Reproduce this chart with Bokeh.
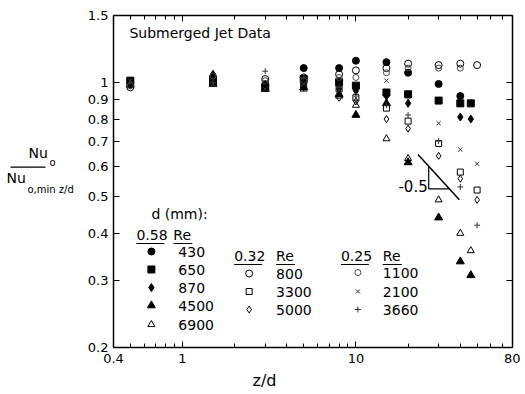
from bokeh.plotting import figure
from bokeh.layouts import row
from bokeh.models import (LogAxis, FixedTicker, CustomJSTickFormatter, Label, Title, Range1d)
from bokeh.embed import file_html
from bokeh.resources import INLINE

# ---------------- data (z/d, Nu_o / Nu_o,min z/d) ----------------
# d = 0.58 mm
s430_x = [0.5, 1.5, 3, 5, 8, 10, 15, 20, 30, 40]
s430_y = [1.00, 1.03, 0.98, 1.09, 1.09, 1.14, 1.13, 1.06, 0.99, 0.92]
s650_x = [0.5, 1.5, 3, 5, 8, 10, 15, 20, 30, 40, 46]
s650_y = [1.01, 1.00, 0.97, 1.02, 1.00, 0.98, 0.94, 0.93, 0.895, 0.88, 0.88]
s870_x = [0.5, 1.5, 3, 5, 8, 10, 15, 20, 40, 46]
s870_y = [0.99, 1.05, 0.97, 0.99, 0.96, 0.95, 0.92, 0.88, 0.81, 0.80]
s4500_x = [0.5, 1.5, 3, 5, 8, 10, 15, 20, 30, 40, 46]
s4500_y = [0.99, 0.99, 0.96, 0.97, 0.93, 0.82, 0.88, 0.615, 0.44, 0.337, 0.31]
s6900_x = [0.5, 1.5, 3, 5, 8, 10, 15, 20, 30, 40, 46]
s6900_y = [0.98, 1.00, 0.97, 0.96, 0.92, 0.87, 0.71, 0.63, 0.49, 0.40, 0.36]
# d = 0.32 mm
s800_x = [0.5, 1.5, 3, 5, 8, 10, 15, 20, 30, 40, 50]
s800_y = [0.97, 1.03, 1.02, 1.03, 1.05, 1.075, 1.09, 1.12, 1.11, 1.12, 1.11]
s3300_x = [0.5, 1.5, 3, 5, 8, 10, 15, 20, 30, 40, 50]
s3300_y = [1.00, 1.00, 0.99, 0.98, 0.96, 0.91, 0.855, 0.79, 0.69, 0.58, 0.52]
s5000_x = [0.5, 1.5, 3, 5, 8, 10, 15, 20, 30, 40, 50]
s5000_y = [0.98, 1.02, 0.99, 0.97, 0.91, 0.89, 0.80, 0.755, 0.64, 0.557, 0.49]
# d = 0.25 mm
s1100_x = [0.5, 1.5, 3, 5, 8, 10, 15, 20, 30, 40]
s1100_y = [0.98, 1.04, 1.01, 1.01, 1.03, 1.03, 1.06, 1.09, 1.09, 1.09]
s2100_x = [0.5, 1.5, 3, 5, 8, 10, 15, 20, 30, 40, 50]
s2100_y = [1.01, 0.99, 0.96, 0.99, 0.95, 0.91, 1.01, 0.90, 0.78, 0.665, 0.61]
s3660_x = [0.5, 1.5, 3, 5, 8, 10, 15, 20, 30, 40, 50]
s3660_y = [1.00, 1.00, 1.07, 1.03, 0.97, 0.93, 0.87, 0.82, 0.70, 0.53, 0.42]

x_major = [0.4, 1, 10, 80]
x_minor = [0.5, 0.6, 0.7, 0.8, 0.9, 2, 3, 4, 5, 6, 7, 8, 9, 20, 30, 40, 50, 60, 70]
y_ticks = [0.2, 0.3, 0.4, 0.5, 0.6, 0.7, 0.8, 0.9, 1.0, 1.5]

slope_value = -0.5
slope_start = (22.8, 0.645)
slope_end_x = 39.5
tri_x = (26.3, 34.6)

FONT = "DejaVu Sans"
K = "black"
XR = (0.4, 80)
YR = (0.2, 1.5)

# layout (page pixels)
W, H = 520, 392
LW = 84                      # width of the y-title strip
FL, FR, FT, FB = 112, 512, 15, 347

# page pixel -> data helper (annotation placement only)
def ref(px, py):
    x = XR[0] * (XR[1] / XR[0]) ** ((px - FL) / (FR - FL))
    y = YR[0] * (YR[1] / YR[0]) ** ((FB - py) / (FB - FT))
    return x, y

# ---------------- y-title strip ----------------
q = figure(width=LW, height=H, x_range=Range1d(0, LW), y_range=Range1d(H, 0),
           output_backend="svg", toolbar_location=None,
           x_axis_location=None, y_axis_location=None,
           min_border_left=0, min_border_right=0, min_border_top=0, min_border_bottom=0)
q.outline_line_color = None
q.grid.visible = False

def qtxt(x, y, s, size):
    q.add_layout(Label(x=x, y=y, text=s, text_font=FONT, text_font_size=size,
                       text_align="left", text_baseline="middle", text_color=K))

qtxt(28, 162, "Nu", "14px")
qtxt(49, 174, "o", "10px")
q.line([10, 45], [179, 179], line_color=K, line_width=1.3)
qtxt(6, 192, "Nu", "14px")
qtxt(27, 206, "o,min  z/d", "10px")

# ---------------- main chart ----------------
p = figure(width=W - LW, height=H, x_axis_type="log", y_axis_type="log",
           x_range=XR, y_range=YR, output_backend="svg", toolbar_location=None,
           min_border_left=FL - LW, min_border_right=W - FR, min_border_top=FT,
           min_border_bottom=H - FB)
p.xgrid.visible = False
p.ygrid.visible = False
p.outline_line_color = None
p.background_fill_color = "white"

fmt = CustomJSTickFormatter(code="return tick.toString()")

def style_axis(ax, ticker, labels=True):
    ax.ticker = ticker
    ax.formatter = fmt
    ax.axis_line_width = 1.5
    ax.axis_line_color = K
    ax.major_tick_in = 6
    ax.major_tick_out = 0
    ax.minor_tick_in = 4
    ax.minor_tick_out = 0
    ax.major_tick_line_color = K
    ax.minor_tick_line_color = K
    ax.major_label_text_font = FONT
    ax.major_label_text_font_size = "13px"
    ax.major_label_text_color = K
    if not labels:
        ax.major_label_text_color = None
        ax.major_label_text_font_size = "1px"
        ax.major_label_standoff = 0

style_axis(p.xaxis[0], FixedTicker(ticks=x_major, minor_ticks=x_minor))
style_axis(p.yaxis[0], FixedTicker(ticks=y_ticks, minor_ticks=[]))
p.xaxis[0].major_label_standoff = 6
p.yaxis[0].major_label_standoff = 5
top = LogAxis()
style_axis(top, FixedTicker(ticks=x_major, minor_ticks=x_minor), labels=False)
p.add_layout(top, "above")
right = LogAxis()
style_axis(right, FixedTicker(ticks=y_ticks, minor_ticks=[]), labels=False)
p.add_layout(right, "right")

# x title
p.add_layout(Title(text="z/d", align="left", offset=139, text_font=FONT,
                   text_font_size="16px", text_font_style="normal", text_color=K,
                   standoff=6), "below")

# ---------------- data markers ----------------
p.scatter(s430_x, s430_y, marker="circle", size=7, fill_color=K, line_color=K)
p.scatter(s650_x, s650_y, marker="square", size=7, fill_color=K, line_color=K)
p.scatter(s870_x, s870_y, marker="diamond", size=8, fill_color=K, line_color=K)
p.scatter(s4500_x, s4500_y, marker="triangle", size=8, fill_color=K, line_color=K)
p.scatter(s6900_x, s6900_y, marker="triangle", size=7, fill_color=None, line_color=K)
p.scatter(s800_x, s800_y, marker="circle", size=7, fill_color=None, line_color=K)
p.scatter(s3300_x, s3300_y, marker="square", size=6, fill_color=None, line_color=K)
p.scatter(s5000_x, s5000_y, marker="diamond", size=7, fill_color=None, line_color=K)
p.scatter(s1100_x, s1100_y, marker="circle", size=6, fill_color=None, line_color="#444444")
p.scatter(s2100_x, s2100_y, marker="x", size=6, line_color="#333333")
p.scatter(s3660_x, s3660_y, marker="cross", size=6, line_color="#333333")

# ---------------- slope triangle ----------------
def on_slope(x):
    return slope_start[1] * (x / slope_start[0]) ** slope_value
p.line([slope_start[0], slope_end_x], [slope_start[1], on_slope(slope_end_x)],
       line_color=K, line_width=1.5)
p.line([tri_x[0], tri_x[0], tri_x[1]], [on_slope(tri_x[0]), on_slope(tri_x[1]), on_slope(tri_x[1])],
       line_color=K, line_width=1.2)

def txt(px, py, s, size="13px", align="left"):
    x, y = ref(px, py)
    p.add_layout(Label(x=x, y=y, text=s, text_font=FONT, text_font_size=size,
                       text_align=align, text_baseline="middle", text_color=K))

txt(427, 185, "-0.5", size="15px", align="right")
txt(128, 32, "Submerged Jet Data", size="14px")

# ---------------- legend ----------------
txt(150, 213, "d (mm):", size="14px")
headers = [(135, 172, "0.58"), (233, 275, "0.32"), (340, 382, "0.25")]
head_y = [234, 255, 255]
for (hx, rx, s), hy in zip(headers, head_y):
    txt(hx, hy, s, size="14px")
    txt(rx, hy, "Re", size="14px")
    ax0, ay = ref(hx, hy + 9)
    ax1, _ = ref(hx + 28, hy + 9)
    p.line([ax0, ax1], [ay, ay], line_color=K, line_width=1)
    bx0, _ = ref(rx, hy + 9)
    bx1, _ = ref(rx + 19, hy + 9)
    p.line([bx0, bx1], [ay, ay], line_color=K, line_width=1)

leg = [
    (150, 177, 251, "430", "circle", 7, K, K),
    (150, 177, 269, "650", "square", 7, K, K),
    (150, 177, 287, "870", "diamond", 8, K, K),
    (150, 177, 305, "4500", "triangle", 8, K, K),
    (150, 177, 324, "6900", "triangle", 7, None, K),
    (248, 275, 273, "800", "circle", 7, None, K),
    (248, 275, 291, "3300", "square", 6, None, K),
    (248, 275, 309, "5000", "diamond", 7, None, K),
    (357, 382, 272, "1100", "circle", 6, None, "#444444"),
    (357, 382, 291, "2100", "x", 6, None, "#333333"),
    (357, 382, 309, "3660", "cross", 6, None, "#333333"),
]
for mx, tx, yy, s, mk, sz, fc, lc in leg:
    x, y = ref(mx, yy)
    p.scatter([x], [y], marker=mk, size=sz, fill_color=fc, line_color=lc)
    txt(tx, yy, s, size="14px")

layout = row(q, p, spacing=0)
html = file_html(layout, INLINE)
open("out.html", "w").write(html)
